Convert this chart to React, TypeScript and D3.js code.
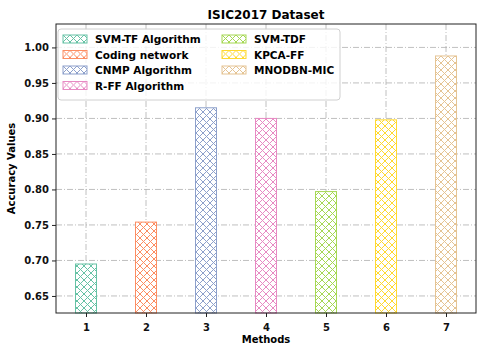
import React, { useEffect, useRef } from 'react';
import * as d3 from 'd3';

const methods = [1, 2, 3, 4, 5, 6, 7];
const names = ['SVM-TF Algorithm', 'Coding network', 'CNMP Algorithm', 'R-FF Algorithm', 'SVM-TDF', 'KPCA-FF', 'MNODBN-MIC'];
const accuracy = [0.695, 0.754, 0.915, 0.9, 0.797, 0.898, 0.988];
const colors = ['#66c2a5', '#fc8d62', '#8da0cb', '#e78ac3', '#a6d854', '#ffd92f', '#e5c494'];
const yTicks = [0.65, 0.7, 0.75, 0.8, 0.85, 0.9, 0.95, 1.0];

const App = () => {
    const ref = useRef<SVGSVGElement>(null);

    useEffect(() => {
        const w = 480;
        const h = 348;
        const margin = { top: 24, right: 4, bottom: 35, left: 56 };
        const font = 'DejaVu Sans';

        const svg = d3.select(ref.current);
        svg.selectAll('*').remove();

        // hatch patterns, one per colour
        const defs = svg.append('defs');
        colors.forEach((c, i) => {
            const p = defs.append('pattern')
                .attr('id', `hatch${i}`)
                .attr('patternUnits', 'userSpaceOnUse')
                .attr('width', 7)
                .attr('height', 7);
            p.append('rect').attr('width', 7).attr('height', 7).attr('fill', 'white');
            p.append('path')
                .attr('d', 'M0,0L7,7M7,0L0,7M-1,6L1,8M6,-1L8,1')
                .attr('stroke', c)
                .attr('stroke-width', 1)
                .attr('fill', 'none');
        });

        const x = d3.scaleLinear()
            .domain([0.5, 7.5])
            .range([margin.left, w - margin.right]);

        const y = d3.scaleLinear()
            .domain([0.626, 1.033])
            .range([h - margin.bottom, margin.top]);

        // grid
        const grid = svg.append('g');
        grid.selectAll('line.gy')
            .data(yTicks)
            .join('line')
            .attr('x1', margin.left).attr('x2', w - margin.right)
            .attr('y1', d => y(d)).attr('y2', d => y(d))
            .attr('stroke', '#b0b0b0')
            .attr('stroke-width', 0.8)
            .attr('stroke-dasharray', '6,2,1,2');
        grid.selectAll('line.gx')
            .data(methods)
            .join('line')
            .attr('x1', d => x(d)).attr('x2', d => x(d))
            .attr('y1', margin.top).attr('y2', h - margin.bottom)
            .attr('stroke', '#b0b0b0')
            .attr('stroke-width', 0.8)
            .attr('stroke-dasharray', '6,2,1,2');

        const bw = x(1.35) - x(1);
        svg.append('g')
            .selectAll('rect')
            .data(accuracy)
            .join('rect')
            .attr('x', (d, i) => x(methods[i]) - bw / 2)
            .attr('y', d => y(d))
            .attr('width', bw)
            .attr('height', d => y(y.domain()[0]) - y(d))
            .attr('fill', (d, i) => `url(#hatch${i})`)
            .attr('stroke', (d, i) => colors[i])
            .attr('stroke-width', 1);

        // axes
        const xAxis = svg.append('g')
            .attr('transform', `translate(0,${h - margin.bottom})`)
            .call(d3.axisBottom(x).tickValues(methods).tickFormat(d3.format('d')).tickSizeOuter(0).tickSize(4));
        const yAxis = svg.append('g')
            .attr('transform', `translate(${margin.left},0)`)
            .call(d3.axisLeft(y).tickValues(yTicks).tickFormat(d3.format('.2f')).tickSizeOuter(0).tickSize(4));
        [xAxis, yAxis].forEach(g => {
            g.select('.domain').remove();
            g.selectAll('text')
                .attr('font-family', font)
                .attr('font-weight', 'bold')
                .attr('font-size', 10)
                .attr('fill', '#111');
            g.selectAll('line').attr('stroke', '#222');
        });
        xAxis.selectAll('text').attr('dy', '1.05em');

        svg.append('rect')
            .attr('x', margin.left)
            .attr('y', margin.top)
            .attr('width', w - margin.left - margin.right)
            .attr('height', h - margin.top - margin.bottom)
            .attr('fill', 'none')
            .attr('stroke', '#222')
            .attr('stroke-width', 1);

        // titles
        svg.append('text')
            .attr('x', (margin.left + w - margin.right) / 2)
            .attr('y', 19)
            .attr('text-anchor', 'middle')
            .attr('font-family', font)
            .attr('font-weight', 'bold')
            .attr('font-size', 12)
            .text('ISIC2017 Dataset');
        svg.append('text')
            .attr('x', (margin.left + w - margin.right) / 2)
            .attr('y', 343)
            .attr('text-anchor', 'middle')
            .attr('font-family', font)
            .attr('font-weight', 'bold')
            .attr('font-size', 10)
            .text('Methods');
        svg.append('text')
            .attr('transform', `translate(15,${(margin.top + h - margin.bottom) / 2}) rotate(-90)`)
            .attr('text-anchor', 'middle')
            .attr('font-family', font)
            .attr('font-weight', 'bold')
            .attr('font-size', 10)
            .text('Accuracy Values');

        // legend
        const lg = svg.append('g').attr('transform', 'translate(58,29)');
        lg.append('rect')
            .attr('width', 282).attr('height', 71)
            .attr('rx', 3)
            .attr('fill', 'white').attr('fill-opacity', 0.8)
            .attr('stroke', '#d0d0d0');
        names.forEach((n, i) => {
            const col = i < 4 ? 0 : 1;
            const row = i < 4 ? i : i - 4;
            const g = lg.append('g').attr('transform', `translate(${5 + col * 159},${6 + row * 15.5})`);
            g.append('rect')
                .attr('width', 24).attr('height', 8)
                .attr('fill', `url(#hatch${i})`)
                .attr('stroke', colors[i]);
            g.append('text')
                .attr('x', 32).attr('y', 8)
                .attr('font-family', font)
                .attr('font-weight', 'bold')
                .attr('font-size', 10.5)
                .text(n);
        });
    }, []);

    return (
        <svg ref={ref} width={480} height={348} style={{ position: 'absolute', left: 0, top: 0 }}></svg>
    );
};

export default App;
